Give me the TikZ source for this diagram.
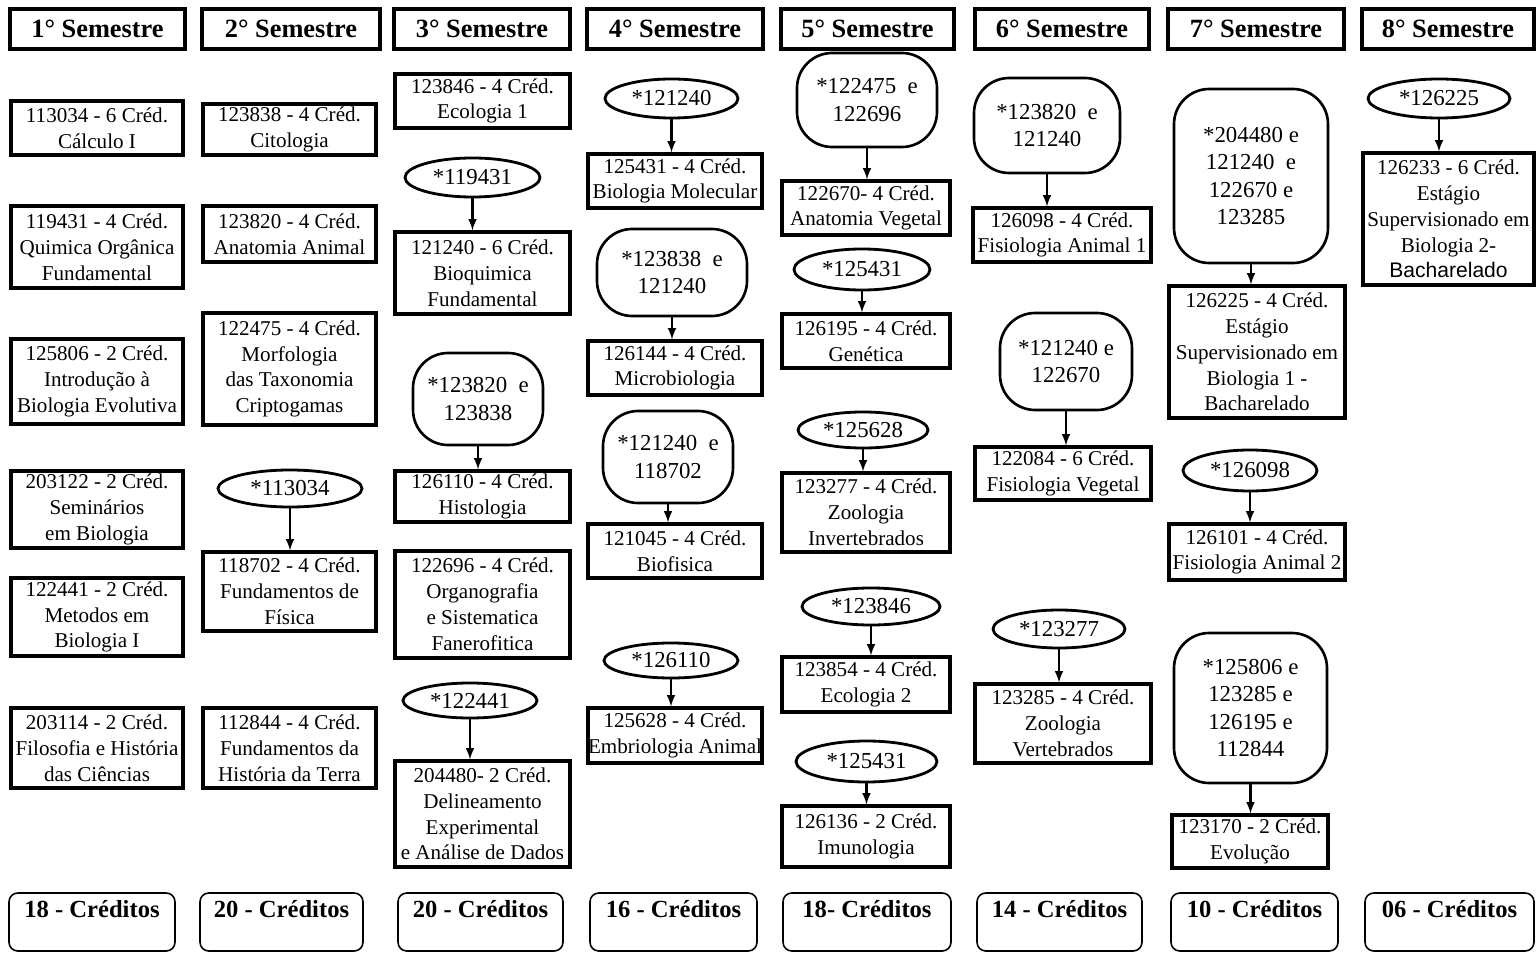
\documentclass[tikz,border=0pt]{standalone}
\usepackage{fontspec}
\setmainfont{Liberation Serif}
\newfontfamily\sansfont{Liberation Sans}
\usetikzlibrary{shapes.geometric}

\newcommand{\putnode}[7]{\node[#1,minimum width={(#5-#3)*0.02cm},minimum height={(#6-#4)*0.02cm}] (#2) at ({(#3+#5)/2},{(#4+#6)/2}) {#7};}

\begin{document}
\begin{tikzpicture}[x=0.02cm,y=-0.02cm,
  sem/.style={draw,line width=1.8pt,inner sep=0pt,font=\fontsize{15}{18}\selectfont\bfseries},
  disc/.style={draw,line width=1.8pt,inner sep=0pt,align=center,font=\fontsize{12}{14.7}\selectfont},
  req/.style={draw,ellipse,line width=1.6pt,inner sep=0pt,font=\fontsize{13}{15}\selectfont},
  reqs/.style={draw,rounded corners=20pt,line width=1.5pt,inner sep=0pt,align=center,font=\fontsize{13}{15.5}\selectfont},
  cred/.style={draw,rounded corners=5pt,line width=0.9pt,inner sep=0pt,text height=0.48cm,text depth=0.68cm,font=\fontsize{14}{16}\selectfont\bfseries},
  pre/.style={-latex,line width=1.2pt}]

\useasboundingbox (0,0) rectangle (1536,953);

\putnode{sem}{s1}{10}{9}{185}{49}{1° Semestre}
\putnode{sem}{s2}{202}{9}{380}{49}{2° Semestre}
\putnode{sem}{s3}{394}{9}{570}{49}{3° Semestre}
\putnode{sem}{s4}{587}{9}{763}{49}{4° Semestre}
\putnode{sem}{s5}{781}{9}{954}{49}{5° Semestre}
\putnode{sem}{s6}{975}{9}{1149}{49}{6° Semestre}
\putnode{sem}{s7}{1168}{9}{1344}{49}{7° Semestre}
\putnode{sem}{s8}{1362}{9}{1534}{49}{8° Semestre}

\putnode{disc}{c113034}{11}{101}{183}{155}{113034 - 6 Créd.\\Cálculo I}
\putnode{disc}{c119431}{11}{206}{183}{288}{119431 - 4 Créd.\\Quimica Orgânica\\Fundamental}
\putnode{disc}{c125806}{11}{339}{183}{424}{125806 - 2 Créd.\\Introdução à\\Biologia Evolutiva}
\putnode{disc}{c203122}{11}{471}{183}{548}{203122 - 2 Créd.\\Seminários\\em Biologia}
\putnode{disc}{c122441}{11}{578}{183}{656}{122441 - 2 Créd.\\Metodos em\\Biologia I}
\putnode{disc}{c203114}{11}{708}{183}{788}{203114 - 2 Créd.\\Filosofia e História\\das Ciências}

\putnode{disc}{c123838}{203}{104}{376}{155}{123838 - 4 Créd.\\Citologia}
\putnode{disc}{c123820}{203}{206}{376}{262}{123820 - 4 Créd.\\Anatomia Animal}
\putnode{disc}{c122475}{203}{313}{376}{425}{122475 - 4 Créd.\\Morfologia\\das Taxonomia\\Criptogamas}
\putnode{req}{p118702}{218}{470}{362}{507}{*113034}
\putnode{disc}{c118702}{203}{552}{376}{631}{118702 - 4 Créd.\\Fundamentos de\\Física}
\putnode{disc}{c112844}{203}{708}{376}{788}{112844 - 4 Créd.\\Fundamentos da\\História da Terra}

\putnode{disc}{c123846}{395}{74}{570}{128}{123846 - 4 Créd.\\Ecologia 1}
\putnode{req}{p121240}{405}{158}{540}{197}{*119431}
\putnode{disc}{c121240}{395}{232}{570}{314}{121240 - 6 Créd.\\Bioquimica\\Fundamental}
\putnode{reqs}{p126110}{413}{353}{543}{445}{*123820~~e\\123838}
\putnode{disc}{c126110}{395}{471}{570}{522}{126110 - 4 Créd.\\Histologia}
\putnode{disc}{c122696}{395}{551}{570}{658}{122696 - 4 Créd.\\Organografia\\e Sistematica\\Fanerofitica}
\putnode{req}{p204480}{403}{683}{537}{718}{*122441}
\putnode{disc}{c204480}{395}{761}{570}{867}{204480- 2 Créd.\\Delineamento\\Experimental\\e Análise de Dados}

\putnode{req}{p125431}{605}{79}{738}{118}{*121240}
\putnode{disc}{c125431}{588}{154}{762}{208}{125431 - 4 Créd.\\Biologia Molecular}
\putnode{reqs}{p126144}{597}{229}{747}{316}{*123838~~e\\121240}
\putnode{disc}{c126144}{588}{341}{762}{395}{126144 - 4 Créd.\\Microbiologia}
\putnode{reqs}{p121045}{603}{411}{733}{503}{*121240~~e\\118702}
\putnode{disc}{c121045}{588}{524}{762}{578}{121045 - 4 Créd.\\Biofisica}
\putnode{req}{p125628}{604}{643}{738}{678}{*126110}
\putnode{disc}{c125628}{588}{708}{762}{763}{125628 - 4 Créd.\\Embriologia Animal}

\putnode{reqs}{p122670}{797}{53}{937}{147}{*122475~~e\\122696}
\putnode{disc}{c122670}{782}{181}{950}{235}{122670- 4 Créd.\\Anatomia Vegetal}
\putnode{req}{p126195}{794}{249}{930}{290}{*125431}
\putnode{disc}{c126195}{782}{314}{950}{368}{126195 - 4 Créd.\\Genética}
\putnode{req}{p123277}{798}{412}{928}{448}{*125628}
\putnode{disc}{c123277}{782}{473}{950}{552}{123277 - 4 Créd.\\Zoologia\\Invertebrados}
\putnode{req}{p123854}{802}{588}{940}{625}{*123846}
\putnode{disc}{c123854}{782}{657}{950}{712}{123854 - 4 Créd.\\Ecologia 2}
\putnode{req}{p126136}{796}{741}{937}{782}{*125431}
\putnode{disc}{c126136}{782}{806}{950}{867}{126136 - 2 Créd.\\Imunologia}

\putnode{reqs}{p126098}{974}{78}{1120}{173}{*123820~~e\\121240}
\putnode{disc}{c126098}{973}{208}{1151}{262}{126098 - 4 Créd.\\Fisiologia Animal 1}
\putnode{reqs}{p122084}{1000}{313}{1132}{410}{*121240 e\\122670}
\putnode{disc}{c122084}{975}{447}{1151}{500}{122084 - 6 Créd.\\Fisiologia Vegetal}
\putnode{req}{p123285}{993}{610}{1125}{648}{*123277}
\putnode{disc}{c123285}{975}{684}{1151}{763}{123285 - 4 Créd.\\Zoologia\\Vertebrados}

\putnode{reqs}{p126225}{1174}{89}{1328}{263}{*204480 e\\121240~~e\\122670 e\\123285}
\putnode{disc}{c126225}{1169}{286}{1345}{418}{126225 - 4 Créd.\\Estágio\\Supervisionado em\\Biologia 1 -\\Bacharelado}
\putnode{req}{p126101}{1183}{450}{1317}{491}{*126098}
\putnode{disc}{c126101}{1169}{524}{1345}{580}{126101 - 4 Créd.\\Fisiologia Animal 2}
\putnode{reqs}{p123170}{1174}{633}{1327}{783}{*125806 e\\123285 e\\126195 e\\112844}
\putnode{disc}{c123170}{1172}{815}{1328}{868}{123170 - 2 Créd.\\Evolução}

\putnode{req}{p126233}{1368}{79}{1510}{118}{*126225}
\putnode{disc}{c126233}{1363}{153}{1534}{285}{126233 - 6 Créd.\\Estágio\\Supervisionado em\\Biologia 2-\\{\sansfont Bacharelado}}

\draw[pre] (p118702.south) -- (p118702.south |- c118702.north);
\draw[pre] (p121240.south) -- (p121240.south |- c121240.north);
\draw[pre] (p126110.south) -- (p126110.south |- c126110.north);
\draw[pre] (p204480.south) -- (p204480.south |- c204480.north);
\draw[pre] (p125431.south) -- (p125431.south |- c125431.north);
\draw[pre] (p126144.south) -- (p126144.south |- c126144.north);
\draw[pre] (p121045.south) -- (p121045.south |- c121045.north);
\draw[pre] (p125628.south) -- (p125628.south |- c125628.north);
\draw[pre] (p122670.south) -- (p122670.south |- c122670.north);
\draw[pre] (p126195.south) -- (p126195.south |- c126195.north);
\draw[pre] (p123277.south) -- (p123277.south |- c123277.north);
\draw[pre] (p123854.south) -- (p123854.south |- c123854.north);
\draw[pre] (p126136.south) -- (p126136.south |- c126136.north);
\draw[pre] (p126098.south) -- (p126098.south |- c126098.north);
\draw[pre] (p122084.south) -- (p122084.south |- c122084.north);
\draw[pre] (p123285.south) -- (p123285.south |- c123285.north);
\draw[pre] (p126225.south) -- (p126225.south |- c126225.north);
\draw[pre] (p126101.south) -- (p126101.south |- c126101.north);
\draw[pre] (p123170.south) -- (p123170.south |- c123170.north);
\draw[pre] (p126233.south) -- (p126233.south |- c126233.north);

\putnode{cred}{k1}{9}{893}{175}{951}{18 - Créditos}
\putnode{cred}{k2}{200}{893}{363}{951}{20 - Créditos}
\putnode{cred}{k3}{398}{893}{563}{951}{20 - Créditos}
\putnode{cred}{k4}{590}{893}{757}{951}{16 - Créditos}
\putnode{cred}{k5}{783}{893}{951}{951}{18- Créditos}
\putnode{cred}{k6}{977}{893}{1142}{951}{14 - Créditos}
\putnode{cred}{k7}{1171}{893}{1338}{951}{10 - Créditos}
\putnode{cred}{k8}{1365}{893}{1534}{951}{06 - Créditos}

\end{tikzpicture}
\end{document}
